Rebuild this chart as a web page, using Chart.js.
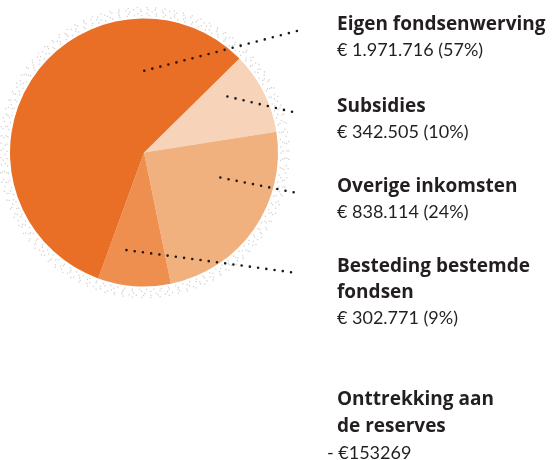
<!DOCTYPE html>
<html>
<head>
<meta charset="utf-8">
<script src="https://cdn.jsdelivr.net/npm/chart.js@4/dist/chart.umd.min.js"></script>
<style>
  body { margin: 0; background: #fff; }
  #wrap { position: relative; width: 552px; height: 460px; }
</style>
</head>
<body>
<div id="wrap"><canvas id="pie"></canvas></div>
<script>
// slice order as drawn clockwise, starting top-right
labels = ["Subsidies", "Overige inkomsten", "Besteding bestemde fondsen", "Eigen fondsenwerving"];
values = [342505, 838114, 302771, 1971716];
colors = ["#f7d4b9", "#f0b17f", "#ee8f4f", "#e86f25"];
// label text as wrapped in the legend on the right
labelLines = [["Subsidies"], ["Overige inkomsten"], ["Besteding bestemde", "fondsen"], ["Eigen fondsenwerving"]];
reservesLines = ["Onttrekking aan", "de reserves"];
reservesValue = "- €153269";

total = values.reduce(function (a, b) { return a + b; }, 0);

function fmt(n) {
  return String(n).replace(/\B(?=(\d{3})+(?!\d))/g, ".");
}

// where each legend block starts (title baseline) and where the dotted leader starts in the slice
legendY = [112, 192, 272, 30];
leaderAt = [[0.30, 0.75], [0.31, 0.60], [0.69, 0.74], [0.78, 0.61]];

var TEXT_X = 337, LINE_H = 26, LEADER_END_X = 297;
var titleFont = "bold 19px 'Open Sans', Lato, sans-serif";
var valueFont = "18px Lato, 'Open Sans', sans-serif";

// light grey speckled halo round the pie
var speckle = {
  id: "speckle",
  beforeDatasetsDraw: function (chart) {
    var arc = chart.getDatasetMeta(0).data[0];
    var ctx = chart.ctx;
    ctx.save();
    ctx.strokeStyle = "#d2d2d2";
    ctx.lineWidth = 1.3;
    for (var i = 0; i < 5; i++) {
      ctx.setLineDash([1.3, 6 + (i % 3) * 2]);
      ctx.lineDashOffset = i * 3.1;
      ctx.beginPath();
      ctx.arc(arc.x, arc.y, arc.outerRadius + 3 + i * 2, 0, Math.PI * 2);
      ctx.stroke();
    }
    ctx.restore();
  }
};

var legendText = {
  id: "legendText",
  afterDatasetsDraw: function (chart) {
    var ctx = chart.ctx;
    var meta = chart.getDatasetMeta(0);
    ctx.save();
    ctx.fillStyle = "#231f20";
    ctx.textBaseline = "alphabetic";
    for (var i = 0; i < labels.length; i++) {
      var y = legendY[i];
      ctx.font = titleFont;
      labelLines[i].forEach(function (t) { ctx.fillText(t, TEXT_X, y); y += LINE_H; });
      ctx.font = valueFont;
      ctx.fillText("€ " + fmt(values[i]) + " (" + Math.round(values[i] / total * 100) + "%)", TEXT_X, y);

      // dotted leader from inside the slice to the label
      var a = meta.data[i];
      var ang = a.startAngle + (a.endAngle - a.startAngle) * leaderAt[i][0];
      var r = a.outerRadius * leaderAt[i][1];
      ctx.save();
      ctx.strokeStyle = "#1a1a1a";
      ctx.lineWidth = 2.6;
      ctx.lineCap = "round";
      ctx.setLineDash([0, 8.3]);
      ctx.beginPath();
      ctx.moveTo(a.x + Math.cos(ang) * r, a.y + Math.sin(ang) * r);
      ctx.lineTo(LEADER_END_X, legendY[i] + 1);
      ctx.stroke();
      ctx.restore();
    }
    var y2 = 405;
    ctx.font = titleFont;
    reservesLines.forEach(function (t) { ctx.fillText(t, TEXT_X, y2); y2 += LINE_H + 1; });
    ctx.font = valueFont;
    ctx.fillText(reservesValue, 327, y2);
    ctx.restore();
  }
};

new Chart(document.getElementById("pie"), {
  type: "pie",
  data: {
    labels: labels,
    datasets: [{
      data: values,
      backgroundColor: colors,
      borderWidth: 0
    }]
  },
  options: {
    responsive: true,
    maintainAspectRatio: false,
    animation: false,
    rotation: 45.4,
    layout: { padding: { left: 10, top: 18, right: 274, bottom: 173 } },
    plugins: {
      legend: { display: false },
      tooltip: { enabled: false }
    }
  },
  plugins: [speckle, legendText]
});
</script>
</body>
</html>
